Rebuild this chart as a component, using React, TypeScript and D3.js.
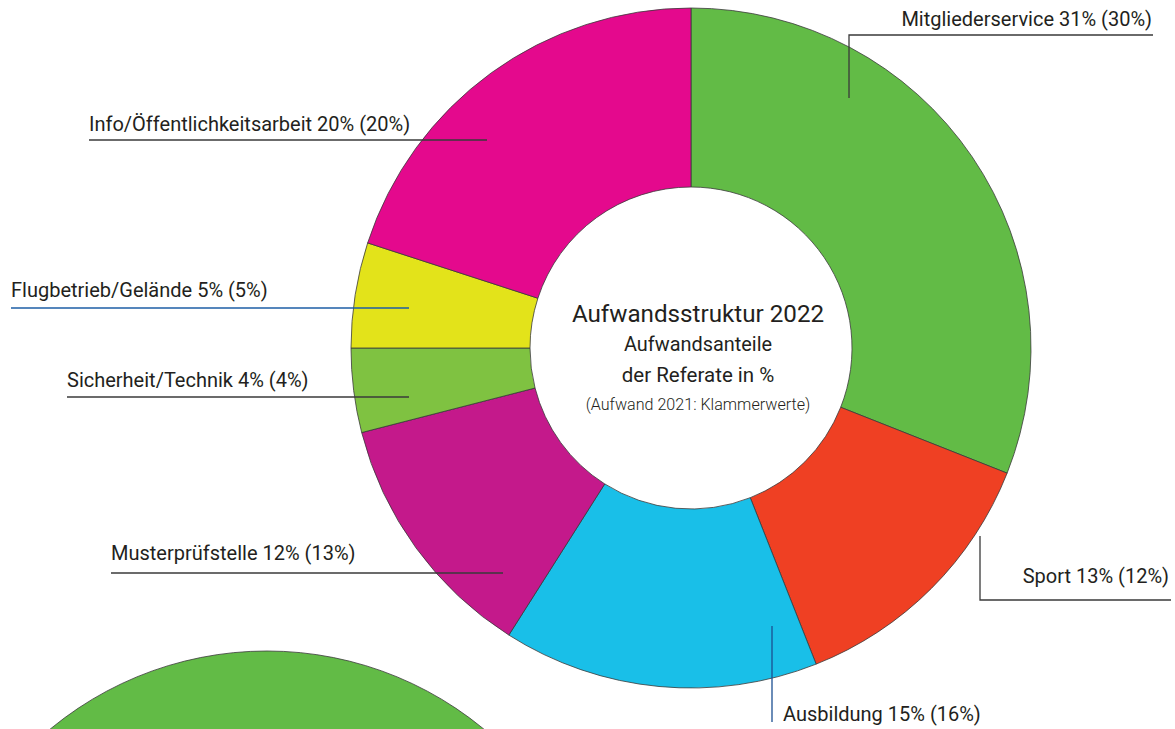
import React, { useEffect, useRef } from 'react';
import * as d3 from 'd3';

// Referate, in Reihenfolge im Uhrzeigersinn ab 12 Uhr
const categories = [
  'Mitgliederservice',
  'Sport',
  'Ausbildung',
  'Musterprüfstelle',
  'Sicherheit/Technik',
  'Flugbetrieb/Gelände',
  'Info/Öffentlichkeitsarbeit',
];
const values2022 = [31, 13, 15, 12, 4, 5, 20];
const values2021 = [30, 12, 16, 13, 4, 5, 20];
const sliceColors = ['#62bb46', '#ef4023', '#19bfe8', '#c4198b', '#7fc241', '#e3e31a', '#e4098d'];

const titleLines = ['Aufwandsstruktur 2022', 'Aufwandsanteile', 'der Referate in %', '(Aufwand 2021: Klammerwerte)'];

// leader line + label placement (layout only)
const LABEL_LAYOUT: Record<string, { tx: number; ty: number; anchor: string; path: number[][]; color: string }> = {
  Mitgliederservice: { tx: 1152, ty: 26, anchor: 'end', path: [[849, 98], [849, 35], [1153, 35]], color: '#3a3a3a' },
  Sport: { tx: 1169, ty: 583, anchor: 'end', path: [[980, 536], [980, 600], [1171, 600]], color: '#3a3a3a' },
  Ausbildung: { tx: 783, ty: 721, anchor: 'start', path: [[772, 626], [772, 722]], color: '#1d4f91' },
  'Musterprüfstelle': { tx: 111, ty: 560, anchor: 'start', path: [[111, 573], [503, 573]], color: '#3a3a3a' },
  'Sicherheit/Technik': { tx: 67, ty: 387, anchor: 'start', path: [[67, 397], [409, 397]], color: '#3a3a3a' },
  'Flugbetrieb/Gelände': { tx: 11, ty: 297, anchor: 'start', path: [[11, 308], [409, 308]], color: '#1d5ea6' },
  'Info/Öffentlichkeitsarbeit': { tx: 89, ty: 131, anchor: 'start', path: [[89, 140], [487, 140]], color: '#3a3a3a' },
};

const FONT = 'Roboto, "Noto Sans", sans-serif';

export default function App() {
  const svgRef = useRef<SVGSVGElement | null>(null);

  useEffect(() => {
    const width = 1175;
    const height = 729;
    const cx = 691;
    const cy = 348;
    const outerR = 340;
    const innerR = 161;

    const svg = d3.select(svgRef.current);
    svg.attr('viewBox', `0 0 ${width} ${height}`);
    svg.selectAll('*').remove();

    // second (next) chart peeking in at the bottom left
    svg
      .append('circle')
      .attr('cx', 267)
      .attr('cy', 991)
      .attr('r', outerR)
      .attr('fill', '#62bb46')
      .attr('stroke', '#3a3a3a')
      .attr('stroke-width', 0.8);

    const data = categories.map((c, i) => ({
      name: c,
      v22: values2022[i],
      v21: values2021[i],
      color: sliceColors[i],
    }));

    const pie = d3
      .pie<any>()
      .sort(null)
      .value((d) => d.v22)
      .startAngle(0)
      .endAngle(2 * Math.PI);

    const arc = d3.arc<any>().innerRadius(innerR).outerRadius(outerR);

    const g = svg.append('g').attr('transform', `translate(${cx},${cy})`);

    g.selectAll('path')
      .data(pie(data))
      .enter()
      .append('path')
      .attr('d', arc)
      .attr('fill', (d) => d.data.color)
      .attr('stroke', '#3a3a3a')
      .attr('stroke-width', 0.8);

    // centre text
    const center = svg.append('g').attr('font-family', FONT).attr('fill', '#231f20').attr('text-anchor', 'middle');
    const titleStyle = [
      { y: 322, size: 24.2, weight: 400 },
      { y: 351, size: 19.9, weight: 400 },
      { y: 382, size: 20.5, weight: 400 },
      { y: 410, size: 16.1, weight: 300 },
    ];
    titleLines.forEach((t, i) => {
      center
        .append('text')
        .attr('x', 698)
        .attr('y', titleStyle[i].y)
        .attr('font-size', titleStyle[i].size)
        .attr('font-weight', titleStyle[i].weight)
        .text(t);
    });

    // leader lines and labels
    const line = d3.line();
    data.forEach((d) => {
      const lay = LABEL_LAYOUT[d.name];
      svg
        .append('path')
        .attr('d', line(lay.path as [number, number][]))
        .attr('fill', 'none')
        .attr('stroke', lay.color)
        .attr('stroke-width', 1.3);

      svg
        .append('text')
        .attr('x', lay.tx)
        .attr('y', lay.ty)
        .attr('text-anchor', lay.anchor)
        .attr('font-family', FONT)
        .attr('font-size', 20)
        .attr('fill', '#231f20')
        .text(`${d.name} ${d.v22}% (${d.v21}%)`);
    });
  }, []);

  return (
    <div style={{ position: 'absolute', left: 0, top: 0, width: 1175, height: 729, background: '#fff' }}>
      <svg ref={svgRef} width={1175} height={729} style={{ display: 'block', overflow: 'hidden' }} />
    </div>
  );
}
